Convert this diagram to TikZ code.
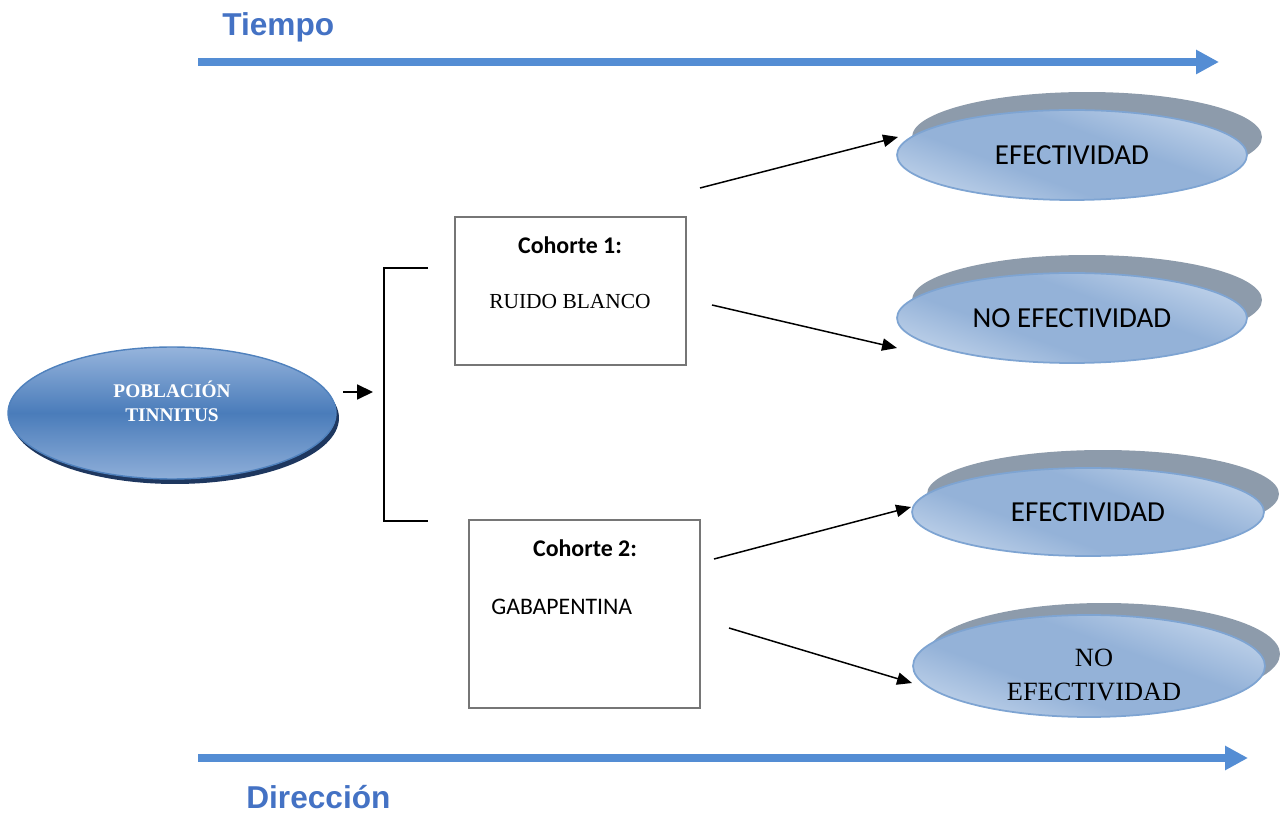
\documentclass[tikz,border=0pt]{standalone}
\usepackage{fontspec}
\setmainfont{Liberation Serif}
\newfontfamily\calibri{Carlito}
\newfontfamily\arialf{Liberation Sans}
\usetikzlibrary{shapes.geometric,arrows.meta}
\definecolor{axisblue}{RGB}{84,141,212}
\definecolor{titleblue}{RGB}{68,114,196}
\definecolor{popmid}{RGB}{74,124,186}
\definecolor{poplight}{RGB}{150,180,220}
\definecolor{popedge}{RGB}{79,129,189}
\definecolor{popdark}{RGB}{30,55,95}
\definecolor{ovlight}{RGB}{202,218,238}
\definecolor{ovmid}{RGB}{148,178,216}
\definecolor{ovedge}{RGB}{126,164,210}
\definecolor{ovshadow}{RGB}{141,155,171}
\definecolor{boxgray}{RGB}{118,118,118}
\pgfdeclareverticalshading{ovgrad}{100bp}{color(0bp)=(ovlight); color(20bp)=(ovlight); color(40bp)=(ovmid); color(58bp)=(ovmid); color(80bp)=(ovlight); color(100bp)=(ovlight)}
\begin{document}
\begin{tikzpicture}[x=0.02cm,y=-0.02cm,
  axisarrow/.style={line width=4.1pt, draw=axisblue, -{Triangle[length=13pt,width=13pt]}},
  axislabel/.style={anchor=base west, inner sep=0pt, text=titleblue, font=\arialf\bfseries\fontsize{18}{21}\selectfont},
  conn/.style={line width=0.85pt, -{Triangle[length=8.5pt,width=7pt]}},
  bracketline/.style={line width=1.1pt},
  oval/.style={ellipse, minimum width=7cm, minimum height=1.8cm, inner sep=0pt, draw=ovedge, line width=1pt,
     shading=ovgrad, shading angle=-20,
     font=\calibri\fontsize{16.5}{19}\selectfont},
  ovshade/.style={ellipse, minimum width=7cm, minimum height=1.8cm, inner sep=0pt, fill=ovshadow},
  popoval/.style={ellipse, minimum width=6.56cm, minimum height=2.64cm, inner sep=0pt, draw=popedge, line width=0.8pt,
     top color=poplight, bottom color=poplight!90!popmid, middle color=popmid},
  popshade/.style={ellipse, minimum width=6.56cm, minimum height=2.64cm, inner sep=0pt, fill=popdark},
  cohbox/.style={rectangle, draw=boxgray, line width=1.2pt, fill=white, minimum width=4.62cm, inner sep=0pt},
  cohtitle/.style={inner sep=0pt, font=\calibri\bfseries\fontsize{13.6}{16}\selectfont},
]
\useasboundingbox (0,0) rectangle (1281,813);

% time / direction axes
\coordinate (ts) at (198,62);
\coordinate (te) at (1219,62);
\draw[axisarrow] (ts) -- (te);
\node[axislabel] (tiempo) at (222,36) {Tiempo};
\coordinate (ds) at (198,758);
\coordinate (de) at (1248,758);
\draw[axisarrow] (ds) -- (de);
\node[axislabel] (direccion) at (246,808) {Dirección};

% population
\node[popshade] (popsh) at (175,418) {};
\node[popoval] (pop) at (172,413) {};
\node[inner sep=0pt, align=center, text=white, font=\bfseries\fontsize{11}{13.5}\selectfont] (poptext) at (172,401) {POBLACIÓN\\TINNITUS};

% arrow to bracket and bracket
\coordinate (pa) at (343,392);
\coordinate (pb) at (373,392);
\draw[line width=0.85pt, -{Triangle[length=9pt,width=8.5pt]}] (pa) -- (pb);
\coordinate (brt) at (428,268);
\coordinate (brb) at (428,521);
\draw[bracketline] (brt) -- (384,268) -- (384,521) -- (brb);

% cohort boxes
\node[cohbox, minimum height=2.96cm] (box1) at (570.5,291) {};
\node[cohtitle] (c1t) at (570,245) {Cohorte 1:};
\node[inner sep=0pt, font=\fontsize{12.2}{14}\selectfont] (c1x) at (570,302) {RUIDO BLANCO};
\node[cohbox, minimum height=3.76cm] (box2) at (584.5,614) {};
\node[cohtitle] (c2t) at (585,548) {Cohorte 2:};
\node[inner sep=0pt, anchor=west, font=\calibri\fontsize{13.5}{16}\selectfont] (c2x) at (491,607) {GABAPENTINA};

% outcome ellipses
\node[ovshade] (e1sh) at (1087,137) {};
\node[oval] (e1) at (1072,155) {EFECTIVIDAD};
\node[ovshade] (e2sh) at (1087,300) {};
\node[oval] (e2) at (1072,318) {NO EFECTIVIDAD};
\node[ovshade, minimum height=1.76cm, minimum width=7.04cm] (e3sh) at (1103,494) {};
\node[oval, minimum height=1.76cm, minimum width=7.04cm] (e3) at (1088,512) {EFECTIVIDAD};
\node[ovshade, minimum height=2.04cm, minimum width=7.04cm] (e4sh) at (1104,654) {};
\node[oval, minimum height=2.04cm, minimum width=7.04cm] (e4) at (1089,666) {};
\node[inner sep=0pt, align=center, font=\fontsize{15}{19.5}\selectfont] (e4t) at (1094,675) {NO\\EFECTIVIDAD};

% outcome arrows
\coordinate (a1s) at (700,188); \coordinate (a1e) at (898,137);
\coordinate (a2s) at (712,305); \coordinate (a2e) at (897,348);
\coordinate (a3s) at (714,559); \coordinate (a3e) at (911,507);
\coordinate (a4s) at (729,628); \coordinate (a4e) at (912,683);
\draw[conn] (a1s) -- (a1e);
\draw[conn] (a2s) -- (a2e);
\draw[conn] (a3s) -- (a3e);
\draw[conn] (a4s) -- (a4e);
\end{tikzpicture}
\end{document}
